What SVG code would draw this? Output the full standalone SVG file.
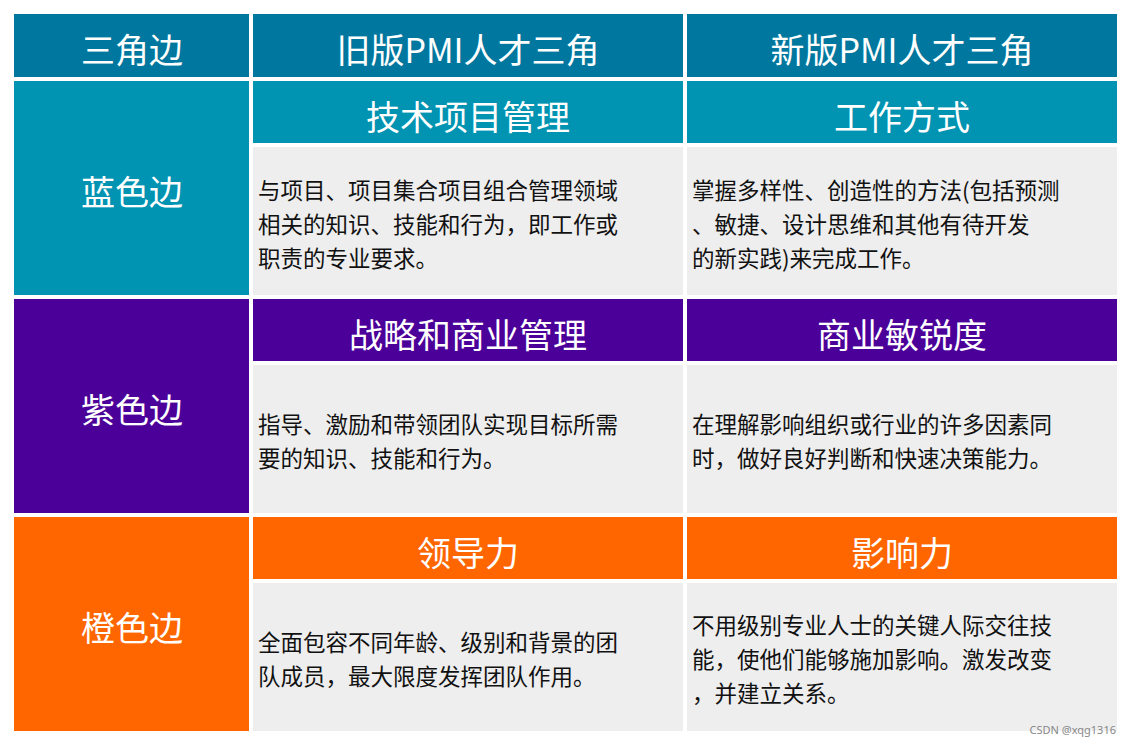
<svg xmlns="http://www.w3.org/2000/svg" width="1132" height="746" viewBox="0 0 1132 746">
<style>
.h{font-family:"Noto Sans CJK SC","Noto Sans",sans-serif;font-size:34px;fill:#fff;text-anchor:middle}
.b{font-family:"Noto Sans CJK SC","Noto Sans",sans-serif;font-size:22.5px;fill:#111}
.body{fill:#EEEEEE}
</style>
<rect width="1132" height="746" fill="#fff"/>
<g id="header">
<rect x="14" y="14" width="235" height="63" fill="#00779E"/>
<rect x="253" y="14" width="430" height="63" fill="#00779E"/>
<rect x="687" y="14" width="430" height="63" fill="#00779E"/>
<text class="h" x="132" y="63">三角边</text>
<text class="h" x="468" y="63">旧版PMI人才三角</text>
<text class="h" x="902" y="63">新版PMI人才三角</text>
</g>
<g id="blue">
<rect x="14" y="81" width="235" height="214" fill="#0093B2"/>
<rect x="253" y="81" width="430" height="62" fill="#0093B2"/>
<rect x="687" y="81" width="430" height="62" fill="#0093B2"/>
<rect class="body" x="253" y="147" width="430" height="148"/>
<rect class="body" x="687" y="147" width="430" height="148"/>
<text class="h" x="132" y="205">蓝色边</text>
<text class="h" x="468" y="130">技术项目管理</text>
<text class="h" x="902" y="130">工作方式</text>
<text class="b" x="258" y="199">与项目、项目集合项目组合管理领域</text>
<text class="b" x="258" y="233">相关的知识、技能和行为，即工作或</text>
<text class="b" x="258" y="267">职责的专业要求。</text>
<text class="b" x="692" y="199">掌握多样性、创造性的方法(包括预测</text>
<text class="b" x="692" y="233">、敏捷、设计思维和其他有待开发</text>
<text class="b" x="692" y="267">的新实践)来完成工作。</text>
</g>
<g id="purple">
<rect x="14" y="299" width="235" height="214" fill="#4B0099"/>
<rect x="253" y="299" width="430" height="62" fill="#4B0099"/>
<rect x="687" y="299" width="430" height="62" fill="#4B0099"/>
<rect class="body" x="253" y="365" width="430" height="148"/>
<rect class="body" x="687" y="365" width="430" height="148"/>
<text class="h" x="132" y="423">紫色边</text>
<text class="h" x="468" y="348">战略和商业管理</text>
<text class="h" x="902" y="348">商业敏锐度</text>
<text class="b" x="258" y="433">指导、激励和带领团队实现目标所需</text>
<text class="b" x="258" y="467">要的知识、技能和行为。</text>
<text class="b" x="692" y="433">在理解影响组织或行业的许多因素同</text>
<text class="b" x="692" y="467">时，做好良好判断和快速决策能力。</text>
</g>
<g id="orange">
<rect x="14" y="517" width="235" height="214" fill="#FF6600"/>
<rect x="253" y="517" width="430" height="62" fill="#FF6600"/>
<rect x="687" y="517" width="430" height="62" fill="#FF6600"/>
<rect class="body" x="253" y="583" width="430" height="148"/>
<rect class="body" x="687" y="583" width="430" height="148"/>
<text class="h" x="132" y="641">橙色边</text>
<text class="h" x="468" y="566">领导力</text>
<text class="h" x="902" y="566">影响力</text>
<text class="b" x="258" y="651">全面包容不同年龄、级别和背景的团</text>
<text class="b" x="258" y="685">队成员，最大限度发挥团队作用。</text>
<text class="b" x="692" y="634">不用级别专业人士的关键人际交往技</text>
<text class="b" x="692" y="668">能，使他们能够施加影响。激发改变</text>
<text class="b" x="692" y="702">，并建立关系。</text>
</g>
<g id="connectors"></g>
<text x="1116" y="734" text-anchor="end" font-family="Noto Sans, sans-serif" font-size="11" fill="#888">CSDN @xqg1316</text>
</svg>
